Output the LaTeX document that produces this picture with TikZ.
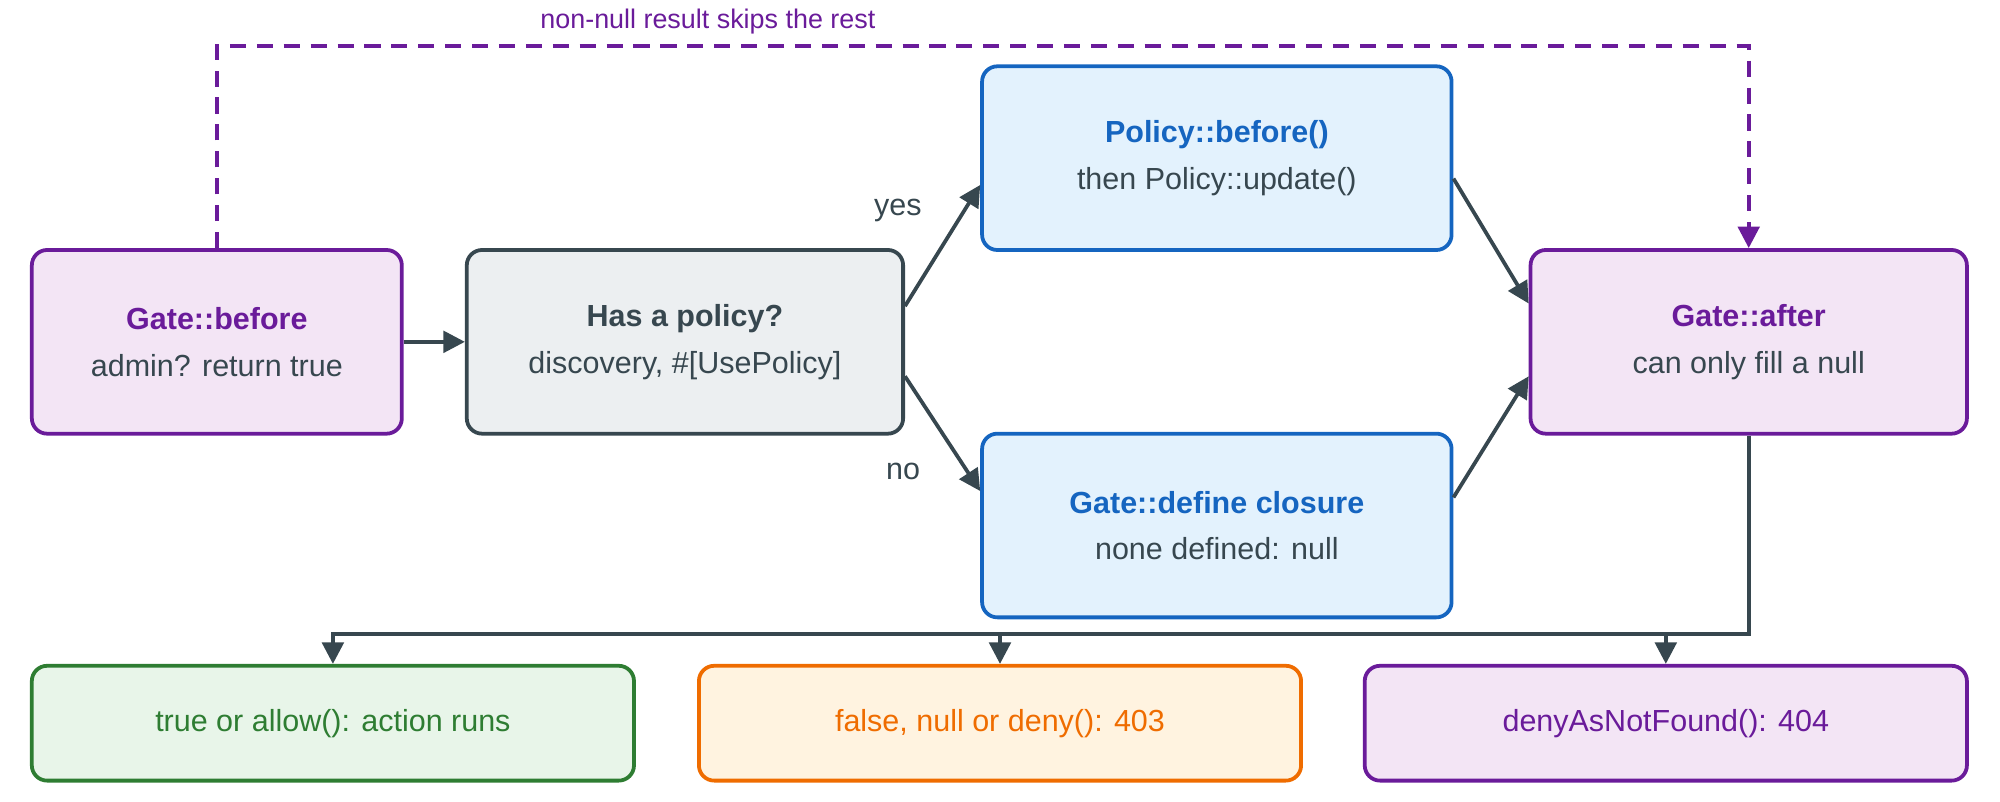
\documentclass[tikz,border=0pt]{standalone}
\usepackage{fontspec}
\setmainfont{Liberation Sans}
\usetikzlibrary{arrows.meta}
\definecolor{ink}{HTML}{37474F}
\definecolor{purp}{HTML}{6A1B9A}
\definecolor{purpfill}{HTML}{F3E5F5}
\definecolor{greyfill}{HTML}{ECEFF1}
\definecolor{blu}{HTML}{1565C0}
\definecolor{blufill}{HTML}{E3F2FD}
\definecolor{grn}{HTML}{2E7D32}
\definecolor{grnfill}{HTML}{E8F5E9}
\definecolor{orng}{HTML}{EF6C00}
\definecolor{orngfill}{HTML}{FFF3E0}
\begin{document}
\begin{tikzpicture}[x=0.025cm,y=-0.025cm,
                    line width=2.1pt,
                    font=\fontsize{17}{26}\selectfont,
                    ]
    \tikzstyle{box}=[rectangle,rounded corners=0.3cm,line width=2.1pt,align=center,minimum height=3.6cm,text=ink]
    \tikzstyle{gate}=[box, draw=purp, fill=purpfill, minimum width=7.25cm];
    \tikzstyle{check}=[box, draw=ink, fill=greyfill, minimum width=8.55cm];
    \tikzstyle{policy}=[box, draw=blu, fill=blufill, minimum width=9.2cm];
    \tikzstyle{result}=[box, minimum width=11.8cm, minimum height=2.25cm];
    \tikzstyle{flow}=[draw=ink, -{Triangle[length=12pt,width=12pt]}];

    \useasboundingbox (0,0) rectangle (1568,628);

    \node[gate] (before) at (170,268) {\textbf{\color{purp}Gate::before}\\admin? return true};
    \node[check] (has) at (537,268) {\textbf{Has a policy?}\\discovery, \#[UsePolicy]};
    \node[policy] (pol) at (954,124) {\textbf{\color{blu}Policy::before()}\\then Policy::update()};
    \node[policy] (define) at (954,412) {\textbf{\color{blu}Gate::define closure}\\none defined: null};
    \node[gate, minimum width=8.55cm] (after) at (1371,268) {\textbf{\color{purp}Gate::after}\\can only fill a null};

    \node[result, draw=grn, fill=grnfill, text=grn] (allow) at (261,567) {true or allow(): action runs};
    \node[result, draw=orng, fill=orngfill, text=orng] (deny) at (784,567) {false, null or deny(): 403};
    \node[result, draw=purp, fill=purpfill, text=purp] (notfound) at (1306,567) {denyAsNotFound(): 404};

    \draw[flow] (before) -- (has);
    \draw[flow] ([yshift=0.7cm]has.east) -- ([yshift=-0.525cm]pol.west);
    \draw[flow] ([yshift=-0.675cm]has.east) -- ([yshift=0.675cm]define.west);
    \draw[flow] ([yshift=-0.4cm]pol.east) -- ([yshift=0.75cm]after.west);
    \draw[flow] ([yshift=0.55cm]define.east) -- ([yshift=-0.675cm]after.west);
    \node[text=ink] (yes) at (704,165) {yes};
    \node[text=ink] (no) at (708,370) {no};

    % results
    \coordinate (bus) at (1371,497);
    \coordinate (busmid) at (784,497);
    \coordinate (busright) at (1306,497);
    \draw[flow] (after.south) -- (bus) -| (allow.north);
    \draw[flow] (busmid) -- (deny.north);
    \draw[flow] (busright) -- (notfound.north);

    % shortcut
    \draw[draw=purp, dashed, dash pattern=on 9pt off 6pt, -{Triangle[length=12pt,width=12pt]}]
        (before.north) |- (1371,36) -- (after.north);
    \node[text=purp, font=\fontsize{15}{18}\selectfont] (skip) at (555,17) {non-null result skips the rest};
\end{tikzpicture}
\end{document}
